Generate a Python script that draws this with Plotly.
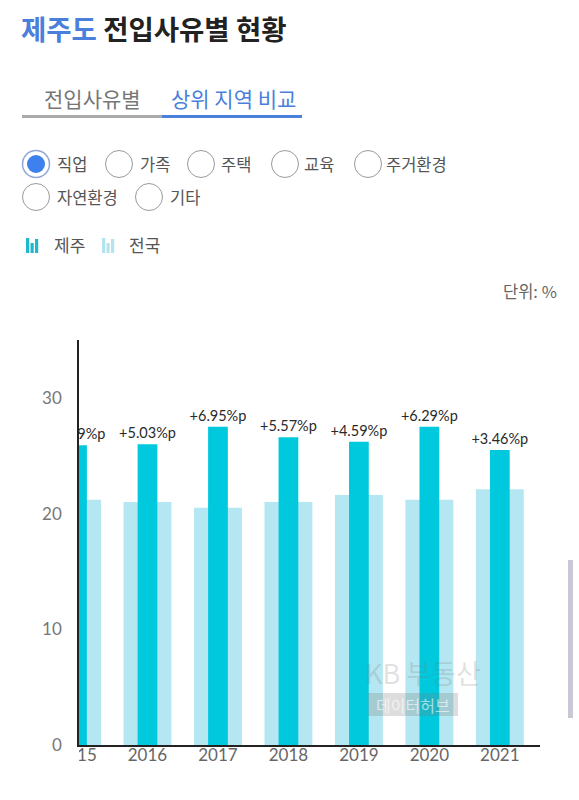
import plotly.graph_objects as go

# ---------------- data ----------------
years = ["2015", "2016", "2017", "2018", "2019", "2020", "2021"]
jeju = [25.9, 26.0, 27.5, 26.6, 26.2, 27.5, 25.5]          # 제주
national = [21.2, 21.0, 20.5, 21.0, 21.6, 21.2, 22.1]      # 전국
diff_labels = ["+4.69%p", "+5.03%p", "+6.95%p", "+5.57%p", "+4.59%p", "+6.29%p", "+3.46%p"]
y_ticks = [0, 10, 20, 30]
radio_options = ["직업", "가족", "주택", "교육", "주거환경", "자연환경", "기타"]

# ---------------- layout geometry ----------------
W, H = 579, 800
L, R, T = 79, 540, 340
AXIS_B = 745          # pixel row of the x axis line
B = 775               # bottom of the area used by the plot + tick label band
PW, PH = R - L, B - T

def px(x):
    return (x - L) / PW

def py(y):
    return (B - y) / PH

KFONT = "Noto Sans CJK KR"
NFONT = "Lato, Noto Sans CJK KR"
BLUE = "#4a7fdb"
DARK = "#00c9dd"
LIGHT = "#b4e7f1"

fig = go.Figure()
fig.add_trace(go.Bar(
    x=years, y=national, name="전국", marker=dict(color=LIGHT, line=dict(width=0)),
    width=0.68, cliponaxis=True, hoverinfo="skip", xaxis="x", yaxis="y",
))
fig.add_trace(go.Bar(
    x=years, y=jeju, name="제주", marker=dict(color=DARK, line=dict(width=0)),
    width=0.28, text=diff_labels, textposition="outside", constraintext="none",
    textfont=dict(family=NFONT, size=14.5, color="#2a2a2a"), cliponaxis=True,
    hoverinfo="skip", xaxis="x", yaxis="y",
))
# category labels in a thin band below the axis, clipped like a scrolled chart
fig.add_trace(go.Scatter(
    x=years, y=[0.6] * len(years), mode="text", text=years,
    textfont=dict(family=NFONT, size=17, color="#666"), textposition="middle center",
    cliponaxis=True, hoverinfo="skip", xaxis="x2", yaxis="y2",
))

shapes = []
annotations = []

# title
annotations.append(dict(
    xref="paper", yref="paper", x=px(19), y=py(28), xanchor="left", yanchor="middle",
    text=f'<b><span style="color:{BLUE}">제주도</span> 전입사유별 현황</b>',
    showarrow=False, font=dict(family=KFONT, size=27.5, color="#222"),
))

# tabs
annotations.append(dict(xref="paper", yref="paper", x=px(92.5), y=py(98), xanchor="center",
                        yanchor="middle", text="전입사유별", showarrow=False,
                        font=dict(family=KFONT, size=21, color="#777")))
annotations.append(dict(xref="paper", yref="paper", x=px(233), y=py(98), xanchor="center",
                        yanchor="middle", text="상위 지역 비교", showarrow=False,
                        font=dict(family=KFONT, size=21, color=BLUE)))
shapes.append(dict(type="line", xref="paper", yref="paper", x0=px(22), x1=px(162),
                   y0=py(116.5), y1=py(116.5), line=dict(color="#aaaaaa", width=3)))
shapes.append(dict(type="line", xref="paper", yref="paper", x0=px(162), x1=px(302),
                   y0=py(116.5), y1=py(116.5), line=dict(color=BLUE, width=3)))

# radio buttons
radio_pos = [(36, 164, 58), (119, 164, 141), (201, 164, 222), (285, 164, 305),
             (368, 164, 387), (36, 197, 58), (149, 197, 171)]
rr = 13.5
for i, (opt, (cx, cy, tx)) in enumerate(zip(radio_options, radio_pos)):
    if i == 0:
        shapes.append(dict(type="circle", xref="paper", yref="paper",
                           x0=px(cx - rr), x1=px(cx + rr), y0=py(cy + rr), y1=py(cy - rr),
                           line=dict(color="#8fa6d8", width=1.5), fillcolor="white"))
        shapes.append(dict(type="circle", xref="paper", yref="paper",
                           x0=px(cx - 9), x1=px(cx + 9), y0=py(cy + 9), y1=py(cy - 9),
                           line=dict(width=0), fillcolor="#3f80ef"))
    else:
        shapes.append(dict(type="circle", xref="paper", yref="paper",
                           x0=px(cx - rr), x1=px(cx + rr), y0=py(cy + rr), y1=py(cy - rr),
                           line=dict(color="#9a9a9a", width=1), fillcolor="white"))
    annotations.append(dict(xref="paper", yref="paper", x=px(tx - 3), y=py(cy), xanchor="left",
                            yanchor="middle", text=opt, showarrow=False,
                            font=dict(family=KFONT, size=16.5, color="#555")))

# legend icons
def bar_icon(x0, color):
    bars = [(0, 238), (4.5, 243), (9, 239)]
    for dx, top in bars:
        shapes.append(dict(type="rect", xref="paper", yref="paper",
                           x0=px(x0 + dx), x1=px(x0 + dx + 3.2), y0=py(253), y1=py(top),
                           line=dict(width=0), fillcolor=color))

bar_icon(26, "#1fb8cc")
annotations.append(dict(xref="paper", yref="paper", x=px(52), y=py(245), xanchor="left",
                        yanchor="middle", text="제주", showarrow=False,
                        font=dict(family=KFONT, size=17, color="#555")))
bar_icon(102, "#b4e3ee")
annotations.append(dict(xref="paper", yref="paper", x=px(127), y=py(245), xanchor="left",
                        yanchor="middle", text="전국", showarrow=False,
                        font=dict(family=KFONT, size=17, color="#555")))

# unit
annotations.append(dict(xref="paper", yref="paper", x=px(559), y=py(291), xanchor="right",
                        yanchor="middle", text="단위: %", showarrow=False,
                        font=dict(family=KFONT, size=16.5, color="#666")))

# watermark
annotations.append(dict(xref="paper", yref="paper", x=px(423), y=py(672), xanchor="center",
                        yanchor="middle", text="KB 부동산", showarrow=False,
                        font=dict(family=KFONT, size=27, color="rgba(120,120,120,0.22)")))
shapes.append(dict(type="rect", xref="paper", yref="paper", x0=px(368), x1=px(458),
                   y0=py(716), y1=py(693), line=dict(width=0),
                   fillcolor="rgba(120,120,120,0.25)", layer="above"))
annotations.append(dict(xref="paper", yref="paper", x=px(413), y=py(704.5), xanchor="center",
                        yanchor="middle", text="데이터허브", showarrow=False,
                        font=dict(family=KFONT, size=16, color="rgba(255,255,255,0.6)")))

# scrollbar
shapes.append(dict(type="rect", xref="paper", yref="paper", x0=px(568), x1=px(573),
                   y0=py(718), y1=py(560), line=dict(width=0), fillcolor="#c9c9d6"))

split = (B - AXIS_B) / PH
xr = [0.028, 6.57]

fig.update_layout(
    width=W, height=H,
    margin=dict(l=L, r=W - R, t=T, b=H - B, pad=0),
    paper_bgcolor="white", plot_bgcolor="white",
    barmode="overlay", showlegend=False,
    shapes=shapes, annotations=annotations,
    xaxis=dict(
        type="category", range=xr, showgrid=False, zeroline=False, anchor="y",
        showline=True, linecolor="#222", linewidth=1.5, ticks="", showticklabels=False,
    ),
    yaxis=dict(
        domain=[split, 1], range=[0, 35], tickvals=y_ticks, showgrid=False, zeroline=False,
        showline=True, linecolor="#222", linewidth=1.5, ticks="",
        ticklabelstandoff=12,
        tickfont=dict(family=NFONT, size=17, color="#777"),
    ),
    xaxis2=dict(
        type="category", range=xr, matches="x", anchor="y2", visible=False,
    ),
    yaxis2=dict(
        domain=[0, split], range=[0, 1], anchor="x2", visible=False,
    ),
)

fig.write_html("out.html")
